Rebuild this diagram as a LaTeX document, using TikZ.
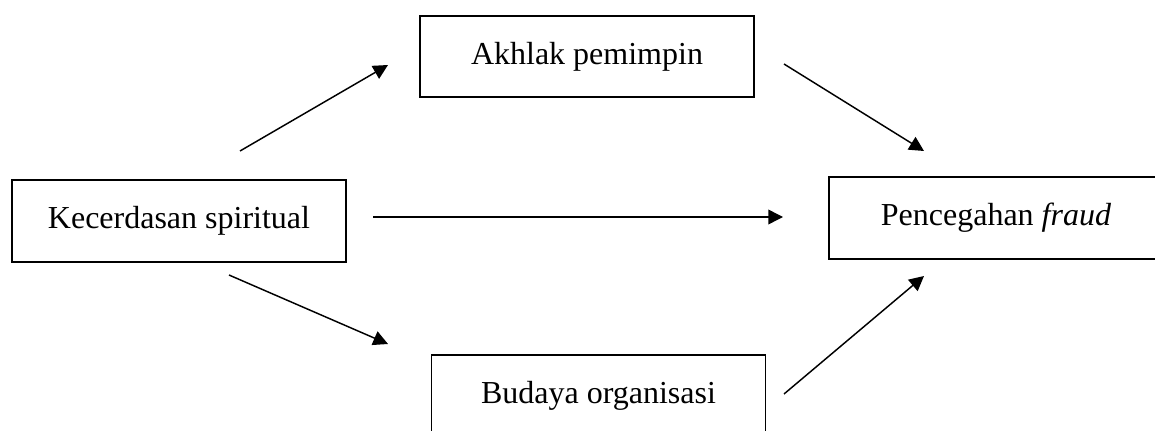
\documentclass[tikz,border=0pt]{standalone}
\usepackage{fontspec}
\setmainfont{Liberation Serif}
\usepackage{xcolor}
\usetikzlibrary{arrows.meta,positioning}
\definecolor{ink}{HTML}{000000}
\tikzset{
  box/.style={draw=ink, line width=1.4pt, minimum width=250.5pt, minimum height=61pt, inner sep=0pt, font=\fontsize{24}{28}\selectfont},
  arr/.style={draw=ink, line width=1.1pt, -{Triangle[length=11pt,width=11pt]}},
}

\begin{document}
\begin{tikzpicture}[x=0.75pt,y=-0.75pt]
\useasboundingbox (0,0) rectangle (1155,431);
% boxes
\node[box] (kecerdasan) at (179,221) {Kecerdasan spiritual};
\node[box] (akhlak) at (587,56.5) {Akhlak pemimpin};
\node[box] (budaya) at (598.5,396) {Budaya organisasi};
\node[box] (fraud) at (996,218) {Pencegahan \textit{fraud}};
% arrow ends
\coordinate (k-a) at (240,151);  \coordinate (a-in) at (388,65);
\coordinate (k-f) at (373,217);  \coordinate (f-k) at (783,217);
\coordinate (a-out) at (784,64); \coordinate (f-a) at (924,151);
\coordinate (k-b) at (229,275);  \coordinate (b-in) at (388,344);
\coordinate (b-out) at (784,394); \coordinate (f-b) at (924,276);
% arrows
\draw[arr] (k-a) -- (a-in);
\draw[arr] (k-f) -- (f-k);
\draw[arr] (a-out) -- (f-a);
\draw[arr] (k-b) -- (b-in);
\draw[arr] (b-out) -- (f-b);
\end{tikzpicture}
\end{document}
